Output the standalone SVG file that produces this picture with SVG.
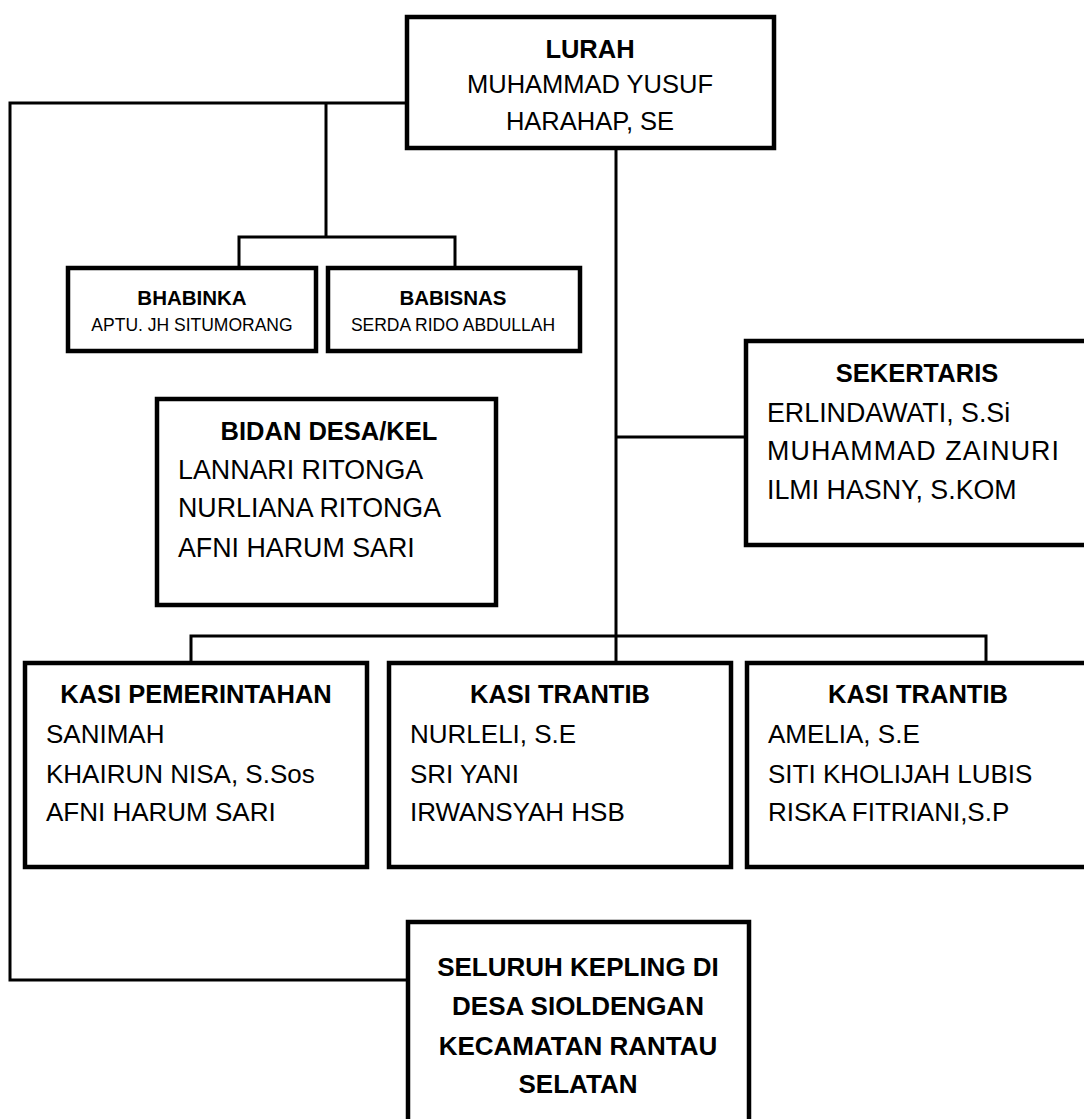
<svg xmlns="http://www.w3.org/2000/svg" width="1084" height="1119" viewBox="0 0 1084 1119">
<style>
.box{fill:#fff;stroke:#000;stroke-width:4.5}
.con{fill:none;stroke:#000;stroke-width:3}
text{font-family:"Liberation Sans",Arial,sans-serif;fill:#000}
.h{font-weight:bold;font-size:25.5px;text-anchor:middle}
.n{font-size:26.8px}
.ln{font-size:25.5px;text-anchor:middle}
.sh{font-weight:bold;font-size:20.5px;text-anchor:middle}
.sn{font-size:17.5px;text-anchor:middle}
.k{font-size:26px}
</style>
<rect width="1084" height="1119" fill="#fff"/>
<g id="connectors">
<path class="con" d="M405 103 H10 V980 H406"/>
<path class="con" d="M326 103 V237"/>
<path class="con" d="M239 266 V237 H455 V266"/>
<path class="con" d="M616 149 V661"/>
<path class="con" d="M616 437 H744"/>
<path class="con" d="M191 661 V636 H986 V662"/>
</g>
<g id="lurah">
<rect class="box" x="407" y="17" width="367" height="131"/>
<text class="h" x="590" y="58">LURAH</text>
<text class="ln" x="590" y="93">MUHAMMAD YUSUF</text>
<text class="ln" x="590" y="130">HARAHAP, SE</text>
</g>
<g id="bhabinka">
<rect class="box" x="68" y="268" width="248" height="83"/>
<text class="sh" x="192" y="305">BHABINKA</text>
<text class="sn" x="192" y="331">APTU. JH SITUMORANG</text>
</g>
<g id="babisnas">
<rect class="box" x="328" y="268" width="252" height="83"/>
<text class="sh" x="453" y="305">BABISNAS</text>
<text class="sn" x="453" y="331">SERDA RIDO ABDULLAH</text>
</g>
<g id="bidan">
<rect class="box" x="157" y="399" width="339" height="206"/>
<text class="h" x="329" y="440">BIDAN DESA/KEL</text>
<text class="n" x="178" y="479">LANNARI RITONGA</text>
<text class="n" x="178" y="517">NURLIANA RITONGA</text>
<text class="n" x="178" y="557">AFNI HARUM SARI</text>
</g>
<g id="sekertaris">
<rect class="box" x="746" y="341" width="400" height="204"/>
<text class="h" x="917" y="382">SEKERTARIS</text>
<text class="n" x="767" y="422">ERLINDAWATI, S.Si</text>
<text class="n" x="767" y="460" textLength="292" lengthAdjust="spacing">MUHAMMAD ZAINURI</text>
<text class="n" x="767" y="499">ILMI HASNY, S.KOM</text>
</g>
<g id="kasi-pemerintahan">
<rect class="box" x="25" y="663" width="342" height="204"/>
<text class="h" x="196" y="703">KASI PEMERINTAHAN</text>
<text class="n k" x="46" y="743">SANIMAH</text>
<text class="n k" x="46" y="783">KHAIRUN NISA, S.Sos</text>
<text class="n k" x="46" y="821">AFNI HARUM SARI</text>
</g>
<g id="kasi-trantib-1">
<rect class="box" x="389" y="663" width="342" height="204"/>
<text class="h" x="560" y="703">KASI TRANTIB</text>
<text class="n k" x="410" y="743">NURLELI, S.E</text>
<text class="n k" x="410" y="783">SRI YANI</text>
<text class="n k" x="410" y="821">IRWANSYAH HSB</text>
</g>
<g id="kasi-trantib-2">
<rect class="box" x="747" y="663" width="400" height="204"/>
<text class="h" x="918" y="703">KASI TRANTIB</text>
<text class="n k" x="768" y="743">AMELIA, S.E</text>
<text class="n k" x="768" y="783">SITI KHOLIJAH LUBIS</text>
<text class="n k" x="768" y="821">RISKA FITRIANI,S.P</text>
</g>
<g id="kepling">
<rect class="box" x="408" y="922" width="341" height="250"/>
<text class="h" x="578" y="976" style="font-size:26px">SELURUH KEPLING DI</text>
<text class="h" x="578" y="1015" style="font-size:26px">DESA SIOLDENGAN</text>
<text class="h" x="578" y="1055" style="font-size:26px">KECAMATAN RANTAU</text>
<text class="h" x="578" y="1093" style="font-size:26px">SELATAN</text>
</g>
</svg>
